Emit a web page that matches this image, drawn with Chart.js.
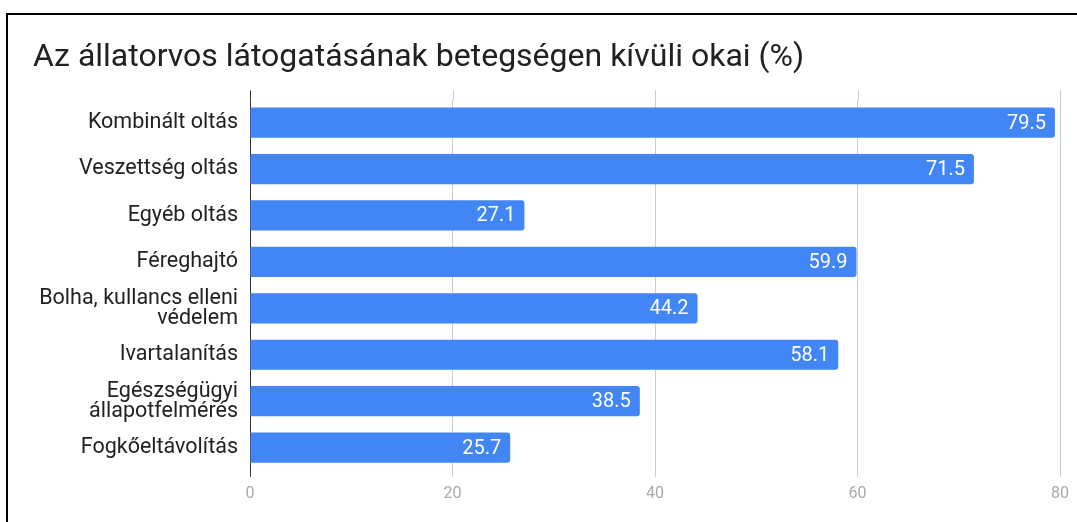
<!DOCTYPE html>
<html>
<head>
<meta charset="utf-8">
<script src="https://cdn.jsdelivr.net/npm/chart.js@4"></script>
<style>
  html, body { margin: 0; padding: 0; background: #fff; }
  #wrap { position: relative; width: 1077px; height: 522px; overflow: hidden; }
  #frame { position: absolute; left: 6px; top: 13px; width: 1200px; height: 600px; border-left: 2px solid #000; border-top: 2px solid #000; pointer-events: none; }
  canvas { position: absolute; left: 0; top: 0; }
</style>
</head>
<body>
<div id="wrap">
  <canvas id="c" width="1077" height="522"></canvas>
  <div id="frame"></div>
</div>
<script>
const titleText = 'Az állatorvos látogatásának betegségen kívüli okai (%)';
const categories = [
  'Kombinált oltás',
  'Veszettség oltás',
  'Egyéb oltás',
  'Féreghajtó',
  ['Bolha, kullancs elleni', 'védelem'],
  'Ivartalanítás',
  ['Egészségügyi', 'állapotfelmérés'],
  'Fogkőeltávolítás'
];
const values = [79.5, 71.5, 27.1, 59.9, 44.2, 58.1, 38.5, 25.7];
const xTicks = [0, 20, 40, 60, 80];

const gridTopExt = {
  id: 'gridTopExt',
  beforeDatasetsDraw(chart) {
    const ctx = chart.ctx, xs = chart.scales.x, area = chart.chartArea;
    ctx.save();
    ctx.lineWidth = 1;
    xs.ticks.forEach((t, i) => {
      const x = Math.round(xs.getPixelForValue(t.value)) + 0.5;
      ctx.strokeStyle = i === 0 ? '#333333' : '#cccccc';
      ctx.beginPath();
      ctx.moveTo(x, area.top - 9);
      ctx.lineTo(x, area.top);
      ctx.stroke();
    });
    ctx.restore();
  }
};

const barLabels = {
  id: 'barLabels',
  afterDatasetsDraw(chart) {
    const ctx = chart.ctx;
    const meta = chart.getDatasetMeta(0);
    ctx.save();
    ctx.fillStyle = '#ffffff';
    ctx.font = '20px Roboto';
    ctx.textAlign = 'right';
    ctx.textBaseline = 'middle';
    meta.data.forEach((bar, i) => {
      ctx.fillText(values[i].toFixed(1), bar.x - 9, bar.y + 1);
    });
    ctx.restore();
  }
};

new Chart(document.getElementById('c'), {
  type: 'bar',
  data: {
    labels: categories,
    datasets: [{
      data: values,
      backgroundColor: '#4285f4',
      borderRadius: { topRight: 3, bottomRight: 3, topLeft: 0, bottomLeft: 0 },
      borderSkipped: false,
      categoryPercentage: 1,
      barPercentage: 0.65
    }]
  },
  options: {
    indexAxis: 'y',
    responsive: false,
    animation: false,
    devicePixelRatio: 1,
    layout: { padding: { left: 33, right: 14, top: 0, bottom: 10 } },
    plugins: {
      legend: { display: false },
      tooltip: { enabled: false },
      title: {
        display: true,
        text: titleText,
        align: 'start',
        color: '#212121',
        font: { family: 'Roboto', size: 32, weight: 'normal', lineHeight: 1.2 },
        padding: { top: 39, bottom: 22 }
      }
    },
    scales: {
      x: {
        type: 'linear',
        min: 0,
        max: 80,
        afterBuildTicks(scale) { scale.ticks = xTicks.map(v => ({ value: v })); },
        border: { display: false },
        grid: {
          color: (c) => c.index === 0 ? '#333333' : '#cccccc',
          lineWidth: 1,
          drawTicks: true,
          tickLength: 6
        },
        ticks: {
          color: '#aaaaaa',
          font: { family: 'Roboto', size: 16 },
          padding: 8
        }
      },
      y: {
        border: { display: false },
        grid: { display: false, drawTicks: false },
        afterFit(scale) { scale.width = 217; },
        ticks: {
          color: '#222222',
          font: { family: 'Roboto', size: 21.5, lineHeight: 0.93 },
          padding: 12
        }
      }
    }
  },
  plugins: [gridTopExt, barLabels]
});
</script>
</body>
</html>
